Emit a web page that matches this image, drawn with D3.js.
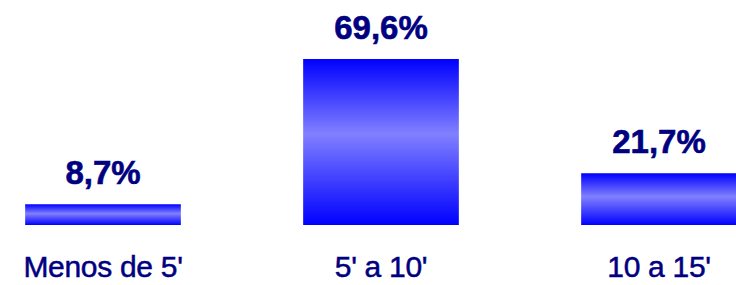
<!DOCTYPE html>
<html>
<head>
<meta charset="utf-8">
<script src="https://d3js.org/d3.v7.min.js"></script>
<style>
  body { margin: 0; background: #fff; }
  svg { display: block; }
</style>
</head>
<body>
<svg></svg>
<script>
  // data
  const categories = ["Menos de 5'", "5' a 10'", "10 a 15'"];
  const values = [8.7, 69.6, 21.7];
  const valueLabels = ['8,7%', '69,6%', '21,7%'];

  const width = 736, height = 285;
  const baseY = 225;

  const svg = d3.select('svg').attr('width', width).attr('height', height);

  // vertical gradient: blue at edges, lighter in the middle
  const grad = svg.append('defs').append('linearGradient')
    .attr('id', 'barGrad')
    .attr('x1', 0).attr('y1', 0).attr('x2', 0).attr('y2', 1);
  grad.append('stop').attr('offset', '0%').attr('stop-color', '#0000ff');
  grad.append('stop').attr('offset', '45%').attr('stop-color', '#8080ff');
  grad.append('stop').attr('offset', '100%').attr('stop-color', '#0000ff');

  const x = d3.scaleBand()
    .domain(categories)
    .range([-36, 798])
    .paddingInner(0.44)
    .paddingOuter(0.22);

  const y = d3.scaleLinear()
    .domain([0, 69.6])
    .range([baseY, 59]);

  const data = categories.map((c, i) => ({ cat: c, v: values[i], label: valueLabels[i] }));

  svg.selectAll('rect.bar').data(data).enter().append('rect')
    .attr('class', 'bar')
    .attr('x', d => x(d.cat))
    .attr('y', d => y(d.v))
    .attr('width', x.bandwidth())
    .attr('height', d => baseY - y(d.v))
    .attr('fill', 'url(#barGrad)');

  // value labels
  svg.selectAll('text.val').data(data).enter().append('text')
    .attr('class', 'val')
    .attr('x', d => x(d.cat) + x.bandwidth() / 2)
    .attr('y', d => y(d.v) - 20)
    .attr('text-anchor', 'middle')
    .attr('font-family', 'Liberation Sans, Arial, sans-serif')
    .attr('font-weight', 'bold')
    .attr('font-size', 33)
    .attr('fill', '#000080')
    .attr('stroke', '#000080')
    .attr('stroke-width', 0.6)
    .text(d => d.label);

  // category axis (no line, no ticks)
  const axis = svg.append('g')
    .attr('transform', 'translate(0,' + baseY + ')')
    .call(d3.axisBottom(x).tickSize(0).tickPadding(0));
  axis.select('.domain').remove();
  axis.selectAll('text')
    .attr('y', 52)
    .attr('dy', 0)
    .attr('font-family', 'Liberation Sans, Arial, sans-serif')
    .attr('font-size', 30)
    .attr('letter-spacing', -0.3)
    .attr('fill', '#000080')
    .attr('stroke', '#000080')
    .attr('stroke-width', 0.5);
</script>
</body>
</html>
